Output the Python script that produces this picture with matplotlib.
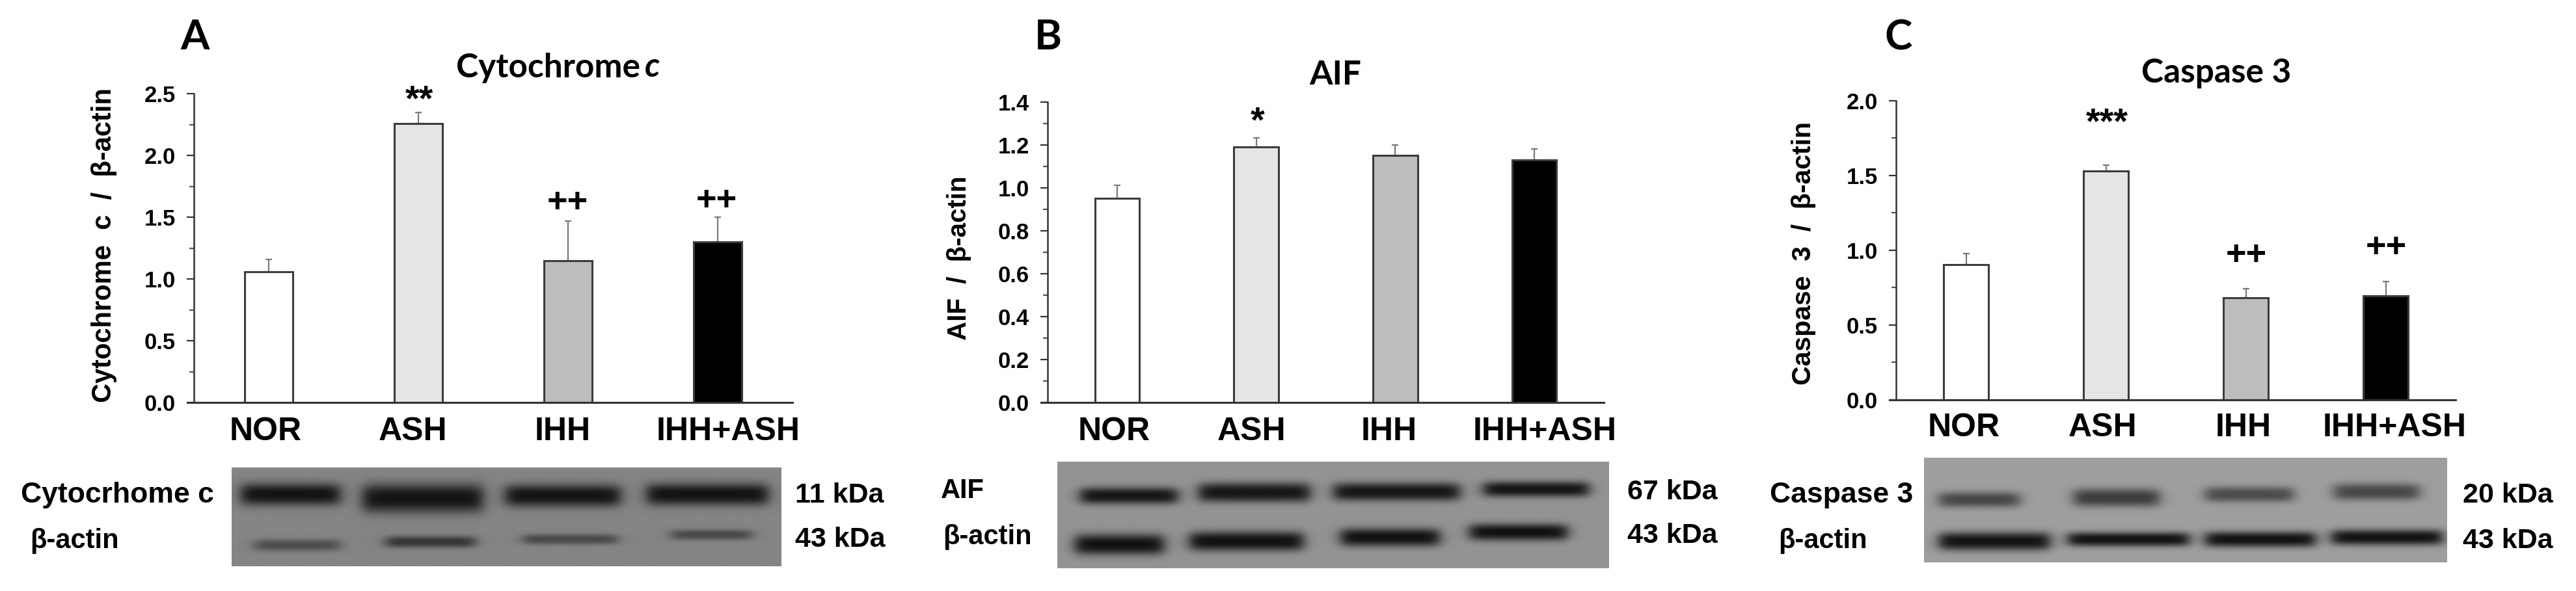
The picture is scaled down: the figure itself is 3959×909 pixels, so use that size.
import numpy as np
import matplotlib
matplotlib.use('Agg')
import matplotlib.pyplot as plt

W, H = 3959, 909

categories = ['NOR', 'ASH', 'IHH', 'IHH+ASH']
bar_colors = ['white', '#e6e4e6', '#bdbdbd', 'black']

cyt_values = [1.06, 2.26, 1.145, 1.30]
cyt_errors = [0.10, 0.09, 0.325, 0.20]
aif_values = [0.952, 1.191, 1.152, 1.131]
aif_errors = [0.06, 0.042, 0.048, 0.05]
cas_values = [0.903, 1.531, 0.681, 0.694]
cas_errors = [0.073, 0.04, 0.06, 0.098]

cyt_ticks = [0.0, 0.5, 1.0, 1.5, 2.0, 2.5]
aif_ticks = [0.0, 0.2, 0.4, 0.6, 0.8, 1.0, 1.2, 1.4]
cas_ticks = [0.0, 0.5, 1.0, 1.5, 2.0]

plt.rcParams['font.family'] = ['Liberation Sans', 'DejaVu Sans']
plt.rcParams['font.weight'] = 'bold'

LATO = ['Lato', 'DejaVu Sans']

fig = plt.figure(figsize=(W / 100, H / 100), dpi=100, facecolor='white')


def put(x, y, s, size, ha='center', **kw):
    # x, y are pixels from the top left of the picture
    return fig.text(x / W, 1 - y / H, s, fontsize=size, ha=ha, va='center', **kw)


def panel(left, right, top, bottom, values, errors, ticks, minor):
    ax = fig.add_axes([left / W, 1 - bottom / H, (right - left) / W, (bottom - top) / H])
    x = np.arange(len(values))
    ax.bar(x, values, width=0.32, color=bar_colors, edgecolor='#3c3c3c', linewidth=2.2, zorder=2)
    ax.errorbar(x, values, yerr=[[0] * len(values), errors], fmt='none', ecolor='#7a7a7a',
                elinewidth=1.6, capsize=3.5, capthick=1.6, zorder=1)
    ax.set_xlim(-0.5, 3.5)
    ax.set_ylim(ticks[0], ticks[-1])
    ax.set_yticks(ticks)
    ax.set_yticklabels(['%.1f' % t for t in ticks])
    ax.set_yticks(minor, minor=True)
    ax.set_xticks([])
    ax.tick_params(axis='y', which='major', length=8, width=1.6, color='#333333', labelsize=25, pad=12)
    ax.tick_params(axis='y', which='minor', length=5, width=1.6, color='#555555')
    ax.spines['top'].set_visible(False)
    ax.spines['right'].set_visible(False)
    ax.spines['left'].set_linewidth(1.8)
    ax.spines['left'].set_color('#333333')
    ax.spines['bottom'].set_linewidth(2.2)
    ax.spines['bottom'].set_color('#333333')
    ax.spines['bottom'].set_bounds(-0.5 - 10 / ((right - left) / 4), 3.5)
    ax.spines['bottom'].set_clip_on(False)
    return ax


def blot(x0, x1, y0, y1, base, bands):
    # bands: lane left, lane right, centre y, half thickness, darkness (all pixels, darkness 0-1)
    xs, ys = np.meshgrid(np.arange(x0, x1), np.arange(y0, y1))
    img = np.full(xs.shape, base, dtype=float)
    for a, b, yc, h, d in bands:
        sx = 1 / (1 + np.exp((a + 8 - xs) / 6)) * 1 / (1 + np.exp((xs - b + 8) / 6))
        sy = np.exp(-np.abs((ys - yc) / h) ** 2.5)
        img = img * (1 - d * sx * sy)
    ax = fig.add_axes([x0 / W, 1 - y1 / H, (x1 - x0) / W, (y1 - y0) / H])
    ax.imshow(img, cmap='gray', vmin=0, vmax=1, aspect='auto', interpolation='bilinear')
    ax.axis('off')


# panel A
panel(298, 1218, 144, 619, cyt_values, cyt_errors, cyt_ticks, [0.25, 0.75, 1.25, 1.75, 2.25])
put(300, 58, 'A', 46, family=LATO)
put(842, 104, 'Cytochrome', 37, family=LATO)
put(1003, 104, 'c', 37, family=LATO, style='italic')
fig.text(160 / W, 1 - 377 / H, 'Cytochrome  c  /  β-actin', fontsize=30, rotation=90, ha='center', va='center')
for px, s in zip([408, 635, 865, 1119], categories):
    put(px, 664, s, 36)
put(644, 155, '**', 40)
put(872, 312, '++', 39)
put(1101, 309, '++', 39)
blot(356, 1200, 719, 871, 0.52, [
    (362, 530, 760, 17, 0.85), (549, 749, 766, 22, 0.85), (768, 960, 762, 17, 0.85), (985, 1187, 760, 17, 0.85),
    (383, 530, 838, 9, 0.42), (585, 737, 833, 9, 0.6), (795, 955, 829, 8, 0.45), (1023, 1162, 822, 8, 0.45)])
put(32, 761, 'Cytocrhome c', 32, ha='left')
put(46, 832, 'β-actin', 30, ha='left')
put(1222, 762, '11 kDa', 31, ha='left')
put(1222, 830, '43 kDa', 31, ha='left')

# panel B
panel(1610, 2465, 157, 619, aif_values, aif_errors, aif_ticks, [0.1, 0.3, 0.5, 0.7, 0.9, 1.1, 1.3])
put(1611, 58, 'B', 46, family=LATO)
put(2052, 116, 'AIF', 37, family=LATO)
fig.text(1474 / W, 1 - 397 / H, 'AIF  /  β-actin', fontsize=29, rotation=90, ha='center', va='center')
for px, s in zip([1712, 1924, 2135, 2374], categories):
    put(px, 664, s, 36)
put(1933, 188, '*', 40)
blot(1625, 2472, 710, 874, 0.58, [
    (1652, 1817, 762, 13, 0.85), (1834, 2020, 757, 15, 0.85), (2041, 2250, 756, 14, 0.85), (2271, 2448, 752, 12, 0.85),
    (1644, 1796, 837, 16, 0.88), (1820, 2010, 832, 15, 0.88), (2052, 2219, 826, 14, 0.88), (2250, 2415, 818, 13, 0.88)])
put(1446, 755, 'AIF', 30, ha='left')
put(1449, 826, 'β-actin', 30, ha='left')
put(2501, 757, '67 kDa', 31, ha='left')
put(2501, 824, '43 kDa', 31, ha='left')

# panel C
panel(2914, 3774, 155, 614.5, cas_values, cas_errors, cas_ticks, [0.25, 0.75, 1.25, 1.75])
put(2918, 58, 'C', 46, family=LATO)
put(3406, 113, 'Caspase 3', 37, family=LATO)
fig.text(2772 / W, 1 - 390 / H, 'Caspase  3  /  β-actin', fontsize=29.5, rotation=90, ha='center', va='center')
for px, s in zip([3018, 3232, 3448, 3680], categories):
    put(px, 658, s, 36)
put(3238, 190, '***', 40)
put(3452, 393, '++', 39)
put(3667, 381, '++', 39)
blot(2957, 3761, 704, 865, 0.62, [
    (2972, 3111, 768, 12, 0.55), (3179, 3326, 765, 14, 0.62), (3381, 3532, 760, 12, 0.52), (3579, 3725, 756, 13, 0.55),
    (2972, 3158, 832, 14, 0.88), (3170, 3372, 829, 11, 0.88), (3381, 3566, 829, 12, 0.88), (3575, 3761, 826, 12, 0.88)])
put(2720, 762, 'Caspase 3', 32, ha='left')
put(2733, 832, 'β-actin', 30, ha='left')
put(3785, 762, '20 kDa', 31, ha='left')
put(3785, 832, '43 kDa', 31, ha='left')

fig.savefig('out.png', dpi=100)
